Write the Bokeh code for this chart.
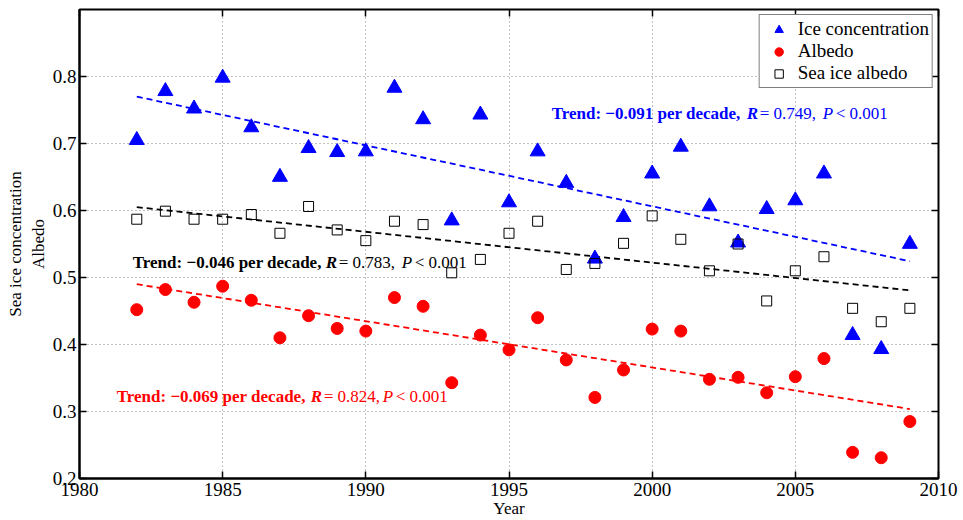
from bokeh.plotting import figure
from bokeh.models import (LinearAxis, FixedTicker, Label, Legend, LegendItem,
                          ColumnDataSource, Range1d)
from bokeh.embed import file_html
from bokeh.resources import INLINE

years = list(range(1982, 2010))

ice_concentration = [0.705, 0.778, 0.752, 0.798, 0.724, 0.650, 0.693, 0.687,
                     0.688, 0.783, 0.736, 0.585, 0.743, 0.612, 0.688, 0.641,
                     0.528, 0.590, 0.655, 0.695, 0.606, 0.552, 0.602, 0.615,
                     0.655, 0.414, 0.393, 0.550]

albedo = [0.452, 0.482, 0.463, 0.487, 0.466, 0.410, 0.443, 0.424,
          0.420, 0.470, 0.457, 0.343, 0.414, 0.392, 0.440, 0.377,
          0.321, 0.362, 0.423, 0.420, 0.348, 0.351, 0.328, 0.352,
          0.379, 0.239, 0.231, 0.285]

sea_ice_albedo = [0.587, 0.599, 0.587, 0.587, 0.594, 0.566, 0.606, 0.571,
                  0.555, 0.584, 0.579, 0.507, 0.527, 0.566, 0.584, 0.512,
                  0.521, 0.551, 0.592, 0.557, 0.510, 0.550, 0.465, 0.510,
                  0.531, 0.454, 0.434, 0.454]

# Linear trends: value at the first year and slope per decade
trend_start = [0.770, 0.605, 0.490]
trend_per_decade = [-0.091, -0.046, -0.069]
trend_r = ["0.749", "0.783", "0.824"]

x_ticks = [1980, 1985, 1990, 1995, 2000, 2005, 2010]
y_ticks = [0.2, 0.3, 0.4, 0.5, 0.6, 0.7, 0.8]

SERIF = "'Liberation Serif', serif"
BLUE = "#0000ff"
RED = "#ff0000"
BLACK = "#000000"

p = figure(width=963, height=520, output_backend="svg", toolbar_location=None,
           x_range=Range1d(1980, 2010), y_range=Range1d(0.2, 0.9),
           min_border_left=79, min_border_right=25, min_border_top=9,
           min_border_bottom=38)
p.background_fill_color = "white"
p.border_fill_color = "white"
p.outline_line_color = BLACK
p.outline_line_width = 2

# Main axes, ticks pointing inward
for ax in (p.xaxis[0], p.yaxis[0]):
    ax.major_tick_in = 7
    ax.major_tick_out = 0
    ax.minor_tick_in = 0
    ax.minor_tick_out = 0
    ax.axis_line_color = BLACK
    ax.axis_line_width = 2
    ax.major_tick_line_width = 1.5
    ax.major_label_text_font = SERIF
    ax.major_label_text_font_size = "19px"
    ax.major_label_text_color = BLACK
    ax.axis_label_text_font = SERIF
    ax.axis_label_text_font_size = "17px"
    ax.axis_label_text_font_style = "normal"
    ax.axis_label_text_color = BLACK
p.xaxis[0].ticker = FixedTicker(ticks=x_ticks)
p.yaxis[0].ticker = FixedTicker(ticks=y_ticks)
p.xaxis[0].axis_label = "Year"
p.xaxis[0].axis_label_standoff = 0
p.xaxis[0].major_label_standoff = 4
p.yaxis[0].axis_label = "Sea ice concentration\nAlbedo"
p.yaxis[0].axis_label_standoff = 2
p.yaxis[0].major_label_standoff = 3

# Mirrored ticks on the top and right edges, without labels
top_axis = LinearAxis(ticker=FixedTicker(ticks=x_ticks),
                      major_label_overrides={t: "" for t in x_ticks})
right_axis = LinearAxis(ticker=FixedTicker(ticks=y_ticks),
                        major_label_overrides={t: "" for t in y_ticks})
for ax in (top_axis, right_axis):
    ax.major_tick_in = 7
    ax.major_tick_out = 0
    ax.minor_tick_in = 0
    ax.minor_tick_out = 0
    ax.major_tick_line_width = 1.5
    ax.axis_line_color = None
    ax.major_label_standoff = 0
p.add_layout(top_axis, "above")
p.add_layout(right_axis, "right")

for g in (p.xgrid[0], p.ygrid[0]):
    g.grid_line_color = "#666666"
    g.grid_line_dash = "1 3"
    g.grid_line_width = 1
    g.grid_line_alpha = 0.8
p.xgrid[0].ticker = FixedTicker(ticks=x_ticks)
p.ygrid[0].ticker = FixedTicker(ticks=y_ticks)

src = ColumnDataSource(dict(year=years, ice=ice_concentration, alb=albedo,
                            sia=sea_ice_albedo))

# Trend lines
trend_colors = [BLUE, BLACK, RED]
x0, x1 = years[0], years[-1]
for start, slope, color in zip(trend_start, trend_per_decade, trend_colors):
    end = start + slope * (x1 - x0) / 10.0
    p.line([x0, x1], [start, end], line_color=color, line_width=1.8,
           line_dash="6 4")

r_ice = p.scatter("year", "ice", source=src, marker="triangle", size=15,
                  fill_color=BLUE, line_color=BLUE)
r_alb = p.scatter("year", "alb", source=src, marker="circle", size=12,
                  fill_color=RED, line_color=RED)
r_sia = p.scatter("year", "sia", source=src, marker="square", size=10,
                  fill_color=None, line_color=BLACK, line_width=1)

legend = Legend(items=[
    LegendItem(label="Ice concentration", renderers=[r_ice]),
    LegendItem(label="Albedo", renderers=[r_alb]),
    LegendItem(label="Sea ice albedo", renderers=[r_sia]),
], location="top_right")
legend.margin = 5
legend.padding = 3
legend.spacing = 0
legend.glyph_width = 32
legend.glyph_height = 21
legend.label_height = 21
legend.label_standoff = 3
legend.label_text_font = "serif"
legend.label_text_font_size = "19px"
legend.label_text_line_height = 1.0
legend.label_text_color = BLACK
legend.border_line_color = BLACK
legend.border_line_width = 1.5
legend.background_fill_color = "white"
legend.background_fill_alpha = 1
p.add_layout(legend)

# Trend annotations, built from styled pieces
anchors = [(1996.49, 0.745), (1981.86, 0.522), (1981.30, 0.323)]
piece_offsets = [(0, 195, 208, 271, 284), (0, 193, 206, 269, 282),
                 (0, 194, 207, 266, 279)]
gaps = [",  ", ", ", ", "]
for i, color in enumerate(trend_colors):
    xa, ya = anchors[i]
    slope_txt = "\u2212%.3f" % abs(trend_per_decade[i])
    pieces = [
        ("Trend: %s per decade," % slope_txt, "bold"),
        ("R", "bold italic"),
        (" = %s%s" % (trend_r[i], gaps[i]), "normal"),
        ("P", "italic"),
        (" < 0.001", "normal"),
    ]
    for (txt, style), off in zip(pieces, piece_offsets[i]):
        p.add_layout(Label(x=xa, y=ya, x_offset=off, text=txt,
                           text_font=SERIF, text_font_size="17px",
                           text_font_style=style, text_color=color,
                           text_baseline="middle", text_align="left"))

open("out.html", "w").write(file_html(p, INLINE))
